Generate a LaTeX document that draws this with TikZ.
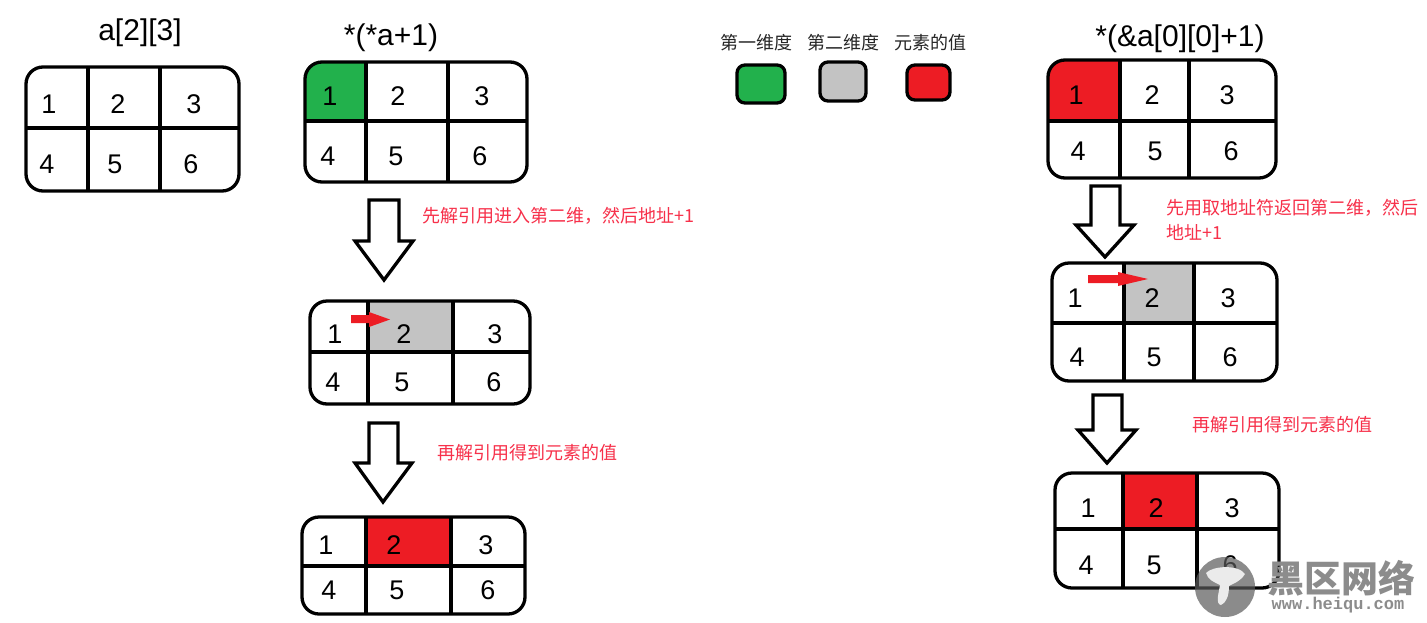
\documentclass[tikz,border=0pt]{standalone}
\usepackage{fontspec}
\setmainfont{Liberation Sans}
\newfontfamily\cjk{Noto Sans CJK SC}
\newfontfamily\wmono[BoldFont=Liberation Mono Bold]{Liberation Mono}
\definecolor{cgreen}{HTML}{22B14C}
\definecolor{cgray}{HTML}{C3C3C3}
\definecolor{cred}{HTML}{ED1C24}
\definecolor{note}{HTML}{F7304A}
\definecolor{wm}{HTML}{8C8C8C}
\definecolor{wmdisc}{HTML}{5B5B5B}
\tikzset{
  x=1pt,y=-1pt,
  frame/.style={draw=black,line width=3.3pt,rounded corners=17pt},
  rule/.style={draw=black,line width=3.3pt},
  blockarrow/.style={draw=black,line width=3.3pt,fill=white,line join=miter},
  redarrow/.style={fill=cred,draw=none},
  digit/.style={inner sep=0pt,font=\fontsize{27}{29}\selectfont},
  title/.style={inner sep=0pt,font=\fontsize{30}{32}\selectfont},
  notetext/.style={inner sep=0pt,text=note,font=\cjk\fontsize{18}{25}\selectfont,align=left,anchor=north west},
  legendtext/.style={inner sep=0pt,text=black!85,font=\cjk\fontsize{18}{20}\selectfont},
  swatch/.style={draw=black,line width=3.3pt,rounded corners=8pt},
}
% name, x0,y0,x1,y1, v1,v2,h
\newcommand{\tblgrid}[8]{%
  \draw[rule] (#6,#3) -- (#6,#5) (#7,#3) -- (#7,#5) (#2,#8) -- (#4,#8);
  \draw[frame] (#2,#3) rectangle (#4,#5);
}
\begin{document}
\begin{tikzpicture}
\useasboundingbox (0,0) rectangle (1427,622);
\fill[white] (0,0) rectangle (1427,622);

% titles
\node[title] (t1) at (140,33) {a[2][3]};
\node[title] (t2) at (391,38) {*(*a+1)};
\node[title] (t3) at (1180,39) {*(\&a[0][0]+1)};

% table 1
\tblgrid{a}{26}{67}{239}{191}{88}{160}{128}
\foreach \n/\x/\y in {1/49/104,2/118/104,3/194/104,4/47/164,5/115/164,6/191/164}
  \node[digit] (a\n) at (\x,\y) {\n};

% table 2
\begin{scope}
  \clip[rounded corners=17pt] (305,62) rectangle (527,182);
  \fill[cgreen] (305,62) rectangle (366,121);
\end{scope}
\tblgrid{b}{305}{62}{527}{182}{366}{448}{121}
\foreach \n/\x/\y in {1/330/96,2/398/96,3/482/96,4/328/156,5/396/156,6/480/156}
  \node[digit] (b\n) at (\x,\y) {\n};

% table 3
\fill[cgray] (368,301) rectangle (453,352);
\tblgrid{c}{310}{301}{530}{404}{368}{453}{352}
\foreach \n/\x/\y in {1/335/334,2/404/334,3/495/334,4/333/382,5/402/382,6/494/382}
  \node[digit] (c\n) at (\x,\y) {\n};

% table 4
\fill[cred] (366,517) rectangle (451,566);
\tblgrid{d}{302}{517}{525}{614}{366}{451}{566}
\foreach \n/\x/\y in {1/326/545,2/394/545,3/486/545,4/329/590,5/397/590,6/488/590}
  \node[digit] (d\n) at (\x,\y) {\n};

% table 5
\begin{scope}
  \clip[rounded corners=17pt] (1048,60) rectangle (1276,178);
  \fill[cred] (1048,60) rectangle (1120,121);
\end{scope}
\tblgrid{e}{1048}{60}{1276}{178}{1120}{1189}{121}
\foreach \n/\x/\y in {1/1076/95,2/1152/95,3/1227/95,4/1078/151,5/1155/151,6/1231/151}
  \node[digit] (e\n) at (\x,\y) {\n};

% table 6
\fill[cgray] (1124,263) rectangle (1194,323);
\tblgrid{f}{1052}{263}{1277}{381}{1124}{1194}{323}
\foreach \n/\x/\y in {1/1075/298,2/1152/298,3/1228/298,4/1077/357,5/1154/357,6/1230/357}
  \node[digit] (f\n) at (\x,\y) {\n};

% table 7
\fill[cred] (1123,473) rectangle (1197,529);
\tblgrid{g}{1055}{473}{1279}{588}{1123}{1197}{529}
\foreach \n/\x/\y in {1/1088/508,2/1156/508,3/1232/508,4/1086/565,5/1154/565,6/1230/565}
  \node[digit] (g\n) at (\x,\y) {\n};

% block arrows
\draw[blockarrow] (369,200) -- (399,200) -- (399,241) -- (413,241) -- (384,280) -- (355,241) -- (369,241) -- cycle;
\draw[blockarrow] (369,423) -- (398,423) -- (398,463) -- (412,463) -- (383,502) -- (355,463) -- (369,463) -- cycle;
\draw[blockarrow] (1091,186) -- (1120,186) -- (1120,225) -- (1134,225) -- (1105,257) -- (1076,225) -- (1091,225) -- cycle;
\draw[blockarrow] (1093,395) -- (1122,395) -- (1122,430) -- (1136,430) -- (1107,463) -- (1078,430) -- (1093,430) -- cycle;

% small red arrows
\fill[redarrow] (351,315) -- (369,315) -- (369,312) -- (390,319.5) -- (369,327) -- (369,323) -- (351,323) -- cycle;
\fill[redarrow] (1088,275) -- (1118,275) -- (1118,272) -- (1148,279) -- (1118,286) -- (1118,283) -- (1088,283) -- cycle;

% notes
\node[notetext] (n1) at (422,207) {先解引用进入第二维，然后地址+1};
\node[notetext] (n2) at (437,444) {再解引用得到元素的值};
\node[notetext,text width=262pt] (n3) at (1166,199) {先用取地址符返回第二维，然后\\地址+1};
\node[notetext] (n4) at (1192,416) {再解引用得到元素的值};

% legend
\node[legendtext] (l1) at (756,43) {第一维度};
\node[legendtext] (l2) at (843,43) {第二维度};
\node[legendtext] (l3) at (930,43) {元素的值};
\draw[swatch,fill=cgreen] (737,65) rectangle (785,103);
\draw[swatch,fill=cgray] (820,62) rectangle (866,101);
\draw[swatch,fill=cred] (907,65) rectangle (950,100);

% watermark
\fill[wmdisc,opacity=.7] (1225,587) circle (30);
\fill[white!92!black] (1206,573) .. controls (1212,566) and (1238,564) .. (1245,574)
  .. controls (1240,582) and (1232,584) .. (1229,586)
  .. controls (1229,596) and (1226,603) .. (1221,605)
  .. controls (1215,604) and (1219,592) .. (1220,585)
  .. controls (1214,582) and (1208,580) .. (1206,573) -- cycle;
\node[inner sep=0pt,text=wm,font=\cjk\bfseries\fontsize{37}{40}\selectfont] (w1) at (1341,578) {黑区网络};
\node[inner sep=0pt,text=wm,font=\wmono\bfseries\fontsize{17}{20}\selectfont] (w2) at (1338,605) {www.heiqu.com};
\end{tikzpicture}
\end{document}
